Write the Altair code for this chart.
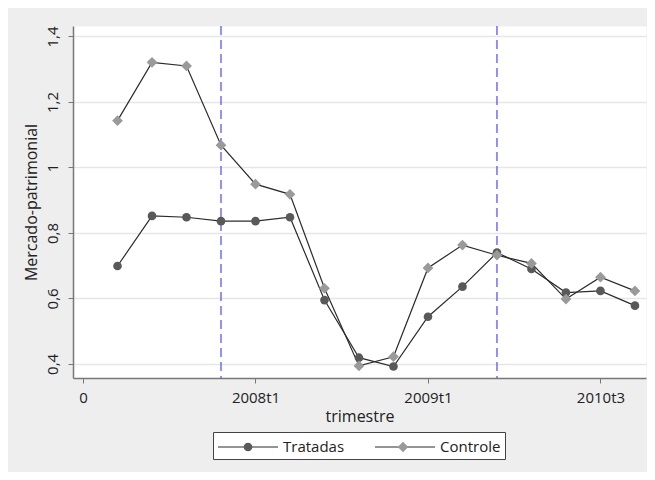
import altair as alt
import pandas as pd

# ---- data ----
periodos = list(range(1, 17))
tratadas = [0.699, 0.852, 0.848, 0.836, 0.836, 0.848, 0.595, 0.419,
            0.392, 0.544, 0.636, 0.740, 0.690, 0.618, 0.623, 0.578]
controle = [1.143, 1.321, 1.310, 1.068, 0.949, 0.918, 0.631, 0.394,
            0.422, 0.693, 0.763, 0.732, 0.707, 0.598, 0.665, 0.623]
grupos = ["Tratadas", "Controle"]
marcos = [4, 12]
x_ticks = [0, 5, 10, 15]
x_labels = ["0", "2008t1", "2009t1", "2010t3"]
y_ticks = [0.4, 0.6, 0.8, 1.0, 1.2, 1.4]

df = pd.DataFrame({
    "t": periodos + periodos,
    "valor": tratadas + controle,
    "grupo": [grupos[0]] * len(periodos) + [grupos[1]] * len(periodos),
})
df["grupo2"] = df["grupo"]
vdf = pd.DataFrame({"t": marcos})

FONT = "Open Sans"

x_expr = "".join(f"datum.value == {v} ? '{l}' : " for v, l in zip(x_ticks, x_labels)) + "''"
y_expr = "replace(format(datum.value, '.1~f'), '.', ',')"

x_enc = alt.X("t:Q",
              scale=alt.Scale(domain=[-0.29, 16.32], nice=False, zero=False),
              axis=alt.Axis(values=x_ticks, labelExpr=x_expr, title="trimestre",
                            grid=False, labelPadding=7, titlePadding=3))
y_enc = alt.Y("valor:Q",
              scale=alt.Scale(domain=[0.357, 1.432], nice=False, zero=False),
              axis=alt.Axis(values=y_ticks, labelExpr=y_expr, title="Mercado-patrimonial",
                            grid=True, labelAngle=270, labelAlign="center",
                            labelBaseline="bottom", labelPadding=8, titlePadding=6))

LEG_FS = 15
TRATADAS_W = 62   # approximate rendered width of the first legend label
COLPAD = 27

common_leg = dict(
    title=None, orient="none", legendX=140, legendY=406, direction="horizontal",
    columns=2, padding=4, labelOffset=44, symbolSize=400,
    symbolStrokeWidth=1.2, labelFont=FONT, labelFontSize=LEG_FS, labelColor="#222222",
)

circle_path = "M1.57,0A0.43,0.43,0,1,0,2.43,0A0.43,0.43,0,1,0,1.57,0Z"
diamond_path = "M2,-0.53L2.53,0L2,0.53L1.47,0Z"

rules = alt.Chart(vdf).mark_rule(color="#4a4aff", strokeDash=[9, 5], strokeWidth=1.2).encode(
    x=alt.X("t:Q"))

lines = alt.Chart(df).mark_line(strokeWidth=1.2).encode(
    x=x_enc, y=y_enc,
    stroke=alt.Stroke("grupo:N", sort=grupos,
                      scale=alt.Scale(range=["#2b2b2b", "#2b2b2b"]),
                      legend=alt.Legend(symbolType="M-1,0L5,0", fillColor="white",
                                        strokeColor="#444444", zindex=0,
                                        columnPadding=COLPAD, **common_leg)))

circles = alt.Chart(df).transform_filter(alt.datum.grupo == grupos[0]).mark_point(
    filled=True, shape="circle", size=75, color="#595959", opacity=1).encode(x=x_enc, y=y_enc)

diamonds = alt.Chart(df).transform_filter(alt.datum.grupo == grupos[1]).mark_point(
    filled=True, shape="diamond", size=115, color="#9a9a9a", opacity=1).encode(x=x_enc, y=y_enc)

pt_leg = dict(symbolOpacity=1, labelExpr="''", symbolStrokeColor="transparent", zindex=1,
              columnPadding=COLPAD + TRATADAS_W, **common_leg)
legend_pts = alt.Chart(df).mark_point(filled=True, opacity=0).encode(
    x=x_enc, y=y_enc,
    fill=alt.Fill("grupo2:N", scale=alt.Scale(domain=grupos, range=["#595959", "#9a9a9a"]),
                  legend=alt.Legend(**pt_leg)),
    shape=alt.Shape("grupo2:N", scale=alt.Scale(domain=grupos, range=[circle_path, diamond_path]),
                    legend=alt.Legend(**pt_leg)))

chart = alt.layer(rules, lines, circles, diamonds, legend_pts).properties(
    width=573, height=352,
    autosize=alt.AutoSizeParams(type="none"),
    padding={"left": 65, "top": 18, "right": 1, "bottom": 94},
).configure(background="#eeeeee").configure_view(
    fill="white", stroke="transparent"
).configure_axis(
    domainColor="#777777", domainWidth=1.5, tickColor="#777777", tickSize=5, tickWidth=1,
    labelFont=FONT, labelFontSize=15, labelColor="#222222",
    titleFont=FONT, titleFontSize=16, titleFontWeight="normal", titleColor="#222222",
    gridColor="#e6e6e6", gridWidth=1.5,
)

chart.save("out.html", embed_options={"renderer": "svg", "actions": False})
